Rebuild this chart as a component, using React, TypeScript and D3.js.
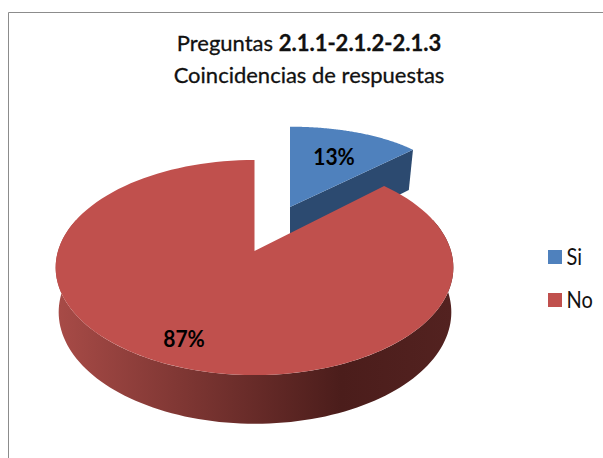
import React from 'react';
import * as d3 from 'd3';

const width = 603;
const height = 458;

const categories = ['Si', 'No'];
const values = [13, 87];
const percentLabels = ['13%', '87%'];
const colors = ['#4f81bd', '#c0504d'];
const sideColor = '#2c4a70';

// perspective of the tilted disc: top plane and the lower plane of the wall
const top = { x0: 254.5, y0: 251, a: 105, b: 196.5 };
const bottom = { x0: 255, y0: 295, a: 109, b: 194 };
const tilt = 0.1535;
const explode = 0.487;

type Plane = typeof top;

const project = (p: Plane, u: number, v: number): [number, number] => {
  const w = 1 + tilt * v;
  return [p.x0 + (p.b * u) / w, p.y0 - (p.a * v) / w];
};

const rim = (p: Plane, angle: number) =>
  project(p, Math.sin(angle), Math.cos(angle));

const line = d3.line();
const sweep = (from: number, to: number) =>
  d3.range(0, 121).map((i) => from + ((to - from) * i) / 120);

const slices = d3.pie<number>().sort(null)(values);
const blue = slices[0];
const red = slices[1];

// blue slice slides out along its own bisector, its x is not foreshortened
const mid = (blue.startAngle + blue.endAngle) / 2;
const ox = explode * Math.sin(mid);
const oy = explode * Math.cos(mid);

const blueScale = { top: 168.7, bottom: 163 };
const blueX = d3.scaleLinear().domain([0, ox]).range([257.8, 290]);

const bluePoint = (p: Plane, scale: number, u: number, v: number): [number, number] => [
  blueX(ox) + scale * u,
  project(p, ox + u, oy + v)[1],
];

const bluePath =
  line([
    bluePoint(top, blueScale.top, 0, 0),
    ...sweep(blue.startAngle, blue.endAngle).map((t) =>
      bluePoint(top, blueScale.top, Math.sin(t), Math.cos(t))
    ),
  ]) + 'Z';

const blueSide =
  line([
    bluePoint(top, blueScale.top, 0, 0),
    bluePoint(top, blueScale.top, Math.sin(blue.endAngle), Math.cos(blue.endAngle)),
    bluePoint(bottom, blueScale.bottom, Math.sin(blue.endAngle), Math.cos(blue.endAngle)),
    bluePoint(bottom, blueScale.bottom, 0, 0),
  ]) + 'Z';

const redPath =
  line([
    project(top, 0, 0),
    ...sweep(red.startAngle, red.endAngle).map((t) => rim(top, t)),
  ]) + 'Z';

const wallFrom = Math.PI * 0.4;
const wallTo = Math.PI * 1.6;
const redWall =
  line([
    ...sweep(wallFrom, wallTo).map((t) => rim(top, t)),
    ...sweep(wallTo, wallFrom).map((t) => rim(bottom, t)),
  ]) + 'Z';

const font = 'Lato, sans-serif';
const halo = { stroke: '#111', strokeWidth: 0.3 };

export default function App() {
  return (
    <svg
      width={width}
      height={height}
      style={{ position: 'absolute', left: 0, top: 0, display: 'block', background: '#fff' }}
    >
      <defs>
        <linearGradient id="wall" gradientUnits="userSpaceOnUse" x1={56} x2={452} y1={0} y2={0}>
          <stop offset="0" stopColor="#a84b47" />
          <stop offset="0.72" stopColor="#4b1d1b" />
          <stop offset="1" stopColor="#532220" />
        </linearGradient>
      </defs>

      <path d="M8.5,458V12.5H603" fill="none" stroke="#8c8c8c" strokeWidth={1} />

      <text x={309} y={51} textAnchor="middle" fontFamily={font} fontSize={22} fill="#111" {...halo}>
        Preguntas <tspan fontWeight={700}>2.1.1-2.1.2-2.1.3</tspan>
      </text>
      <text x={309} y={83} textAnchor="middle" fontFamily={font} fontSize={22} fill="#111" {...halo}>
        Coincidencias de respuestas
      </text>

      <path d={blueSide} fill={sideColor} />
      <path d={bluePath} fill={colors[0]} />
      <path d={redWall} fill="url(#wall)" />
      <path d={redPath} fill={colors[1]} />

      <text
        transform="translate(334, 165) scale(1, 1.12)"
        textAnchor="middle"
        fontFamily={font}
        fontSize={21}
        fontWeight={700}
        fill="#000"
      >
        {percentLabels[0]}
      </text>
      <text
        transform="translate(184, 347) scale(1, 1.05)"
        textAnchor="middle"
        fontFamily={font}
        fontSize={21}
        fontWeight={700}
        fill="#000"
      >
        {percentLabels[1]}
      </text>

      {categories.map((c, i) => (
        <g key={c} transform={`translate(548, ${250 + i * 43})`}>
          <rect width={14} height={14} fill={colors[i]} />
          <text
            transform="translate(18.5, 14.5) scale(1, 1.2)"
            fontFamily={font}
            fontSize={20}
            fill="#111"
          >
            {c}
          </text>
        </g>
      ))}
    </svg>
  );
}
